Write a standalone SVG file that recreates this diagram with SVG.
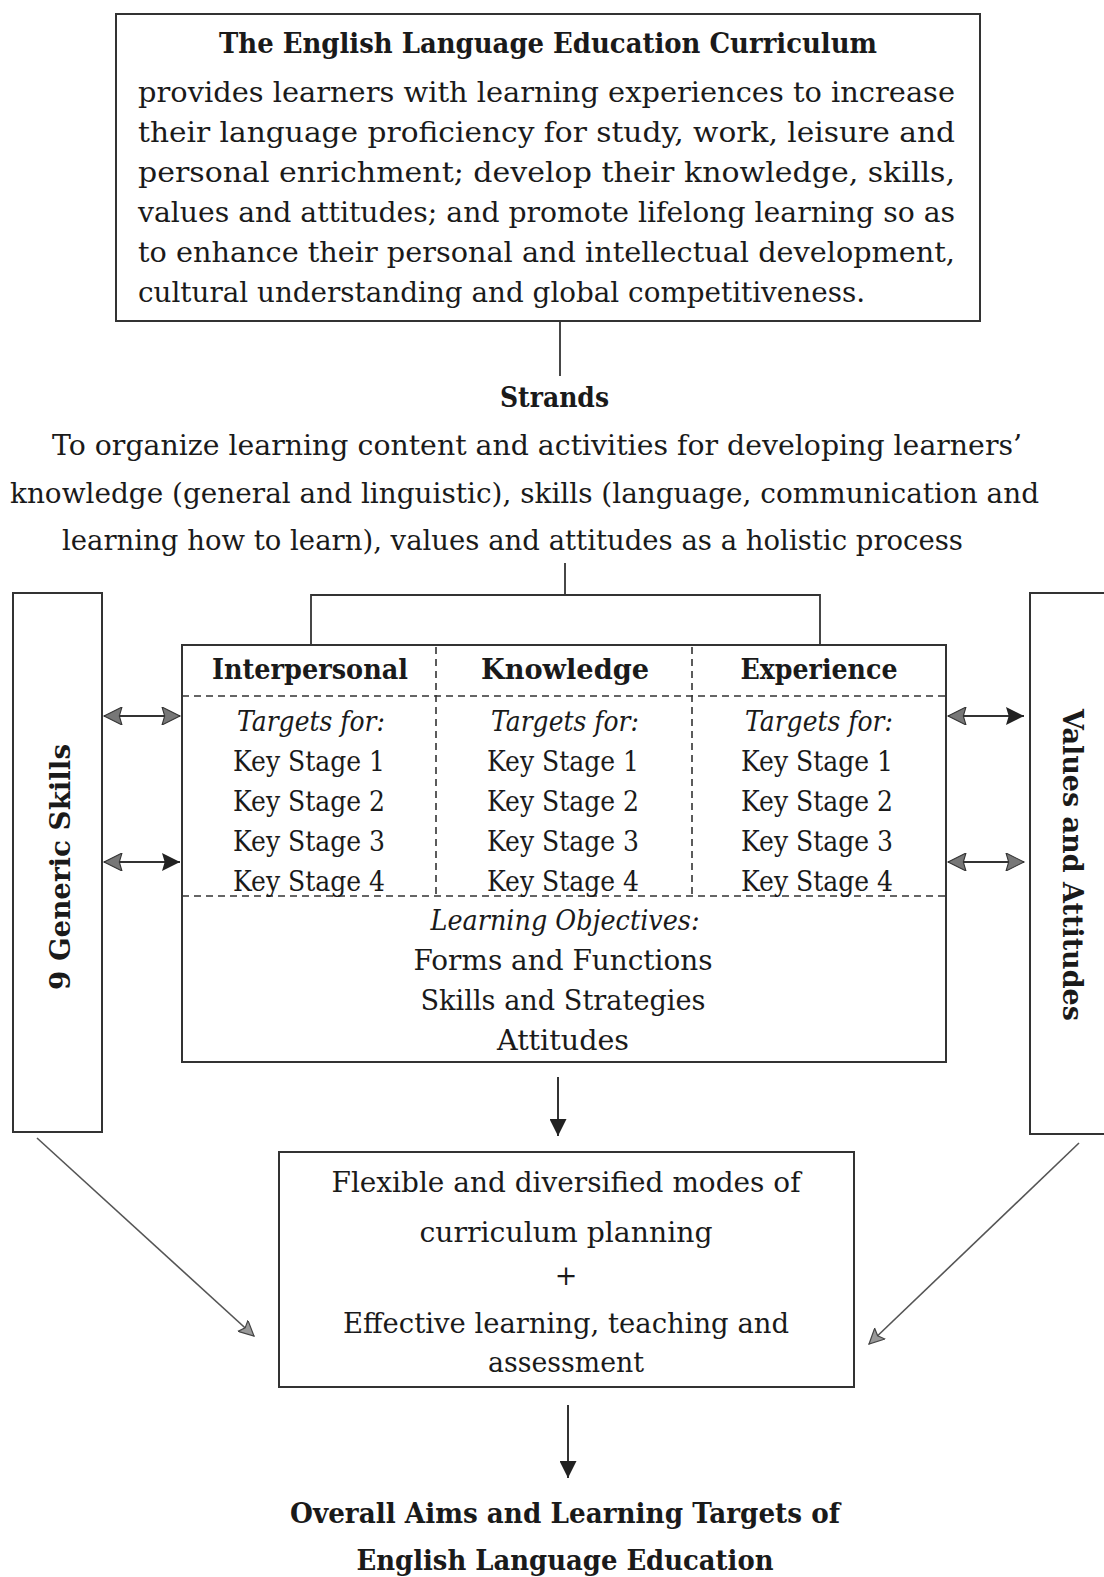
<svg xmlns="http://www.w3.org/2000/svg" width="1104" height="1577" viewBox="0 0 1104 1577">
<defs>
<style>
text{font-family:"DejaVu Serif","Liberation Serif",serif;font-size:27px;fill:#1a1a1a}
.b{font-weight:bold}
.i{font-style:italic}
.m{text-anchor:middle}
.box{fill:none;stroke:#333;stroke-width:2}
.ln{fill:none;stroke:#333;stroke-width:1.8}
.dash{fill:none;stroke:#333;stroke-width:1.6;stroke-dasharray:7 5}
.arr{fill:none;stroke:#333;stroke-width:2}
.diag{fill:none;stroke:#555;stroke-width:1.6}
</style>
<marker id="hd" viewBox="0 0 10 10" refX="10" refY="5" markerUnits="userSpaceOnUse" markerWidth="22" markerHeight="18" orient="auto-start-reverse">
<path d="M0,0 L10,5 L0,10 L1.5,5 z" fill="#222"/>
</marker>
<marker id="hg" viewBox="0 0 10 10" refX="10" refY="5" markerUnits="userSpaceOnUse" markerWidth="22" markerHeight="18" orient="auto-start-reverse">
<path d="M0,0 L10,5 L0,10 L1.5,5 z" fill="#777" stroke="#333" stroke-width="0.6"/>
</marker>
<marker id="hdown" viewBox="0 0 10 10" refX="10" refY="5" markerUnits="userSpaceOnUse" markerWidth="22" markerHeight="17" orient="auto">
<path d="M0,0 L10,5 L0,10 z" fill="#222"/>
</marker>
<marker id="hdiag" viewBox="0 0 10 10" refX="10" refY="5" markerUnits="userSpaceOnUse" markerWidth="20" markerHeight="15" orient="auto">
<path d="M0,0 L10,5 L0,10 L2,5 z" fill="#999" stroke="#444" stroke-width="0.8"/>
</marker>
</defs>
<rect width="1104" height="1577" fill="#fff"/>

<g id="connectors">
<line class="ln" x1="560" y1="321" x2="560" y2="376"/>
<line class="ln" x1="565" y1="563" x2="565" y2="595"/>
<polyline class="ln" points="311,645 311,595 820,595 820,645"/>
<line class="arr" x1="104" y1="716" x2="180" y2="716" marker-start="url(#hg)" marker-end="url(#hg)"/>
<line class="arr" x1="104" y1="862" x2="180" y2="862" marker-start="url(#hg)" marker-end="url(#hd)"/>
<line class="arr" x1="948" y1="716" x2="1024" y2="716" marker-start="url(#hg)" marker-end="url(#hd)"/>
<line class="arr" x1="948" y1="862" x2="1024" y2="862" marker-start="url(#hg)" marker-end="url(#hg)"/>
<line class="arr" x1="558" y1="1077" x2="558" y2="1136" marker-end="url(#hdown)"/>
<line class="diag" x1="37" y1="1138" x2="254" y2="1336" marker-end="url(#hdiag)"/>
<line class="diag" x1="1079" y1="1143" x2="869" y2="1344" marker-end="url(#hdiag)"/>
<line class="arr" x1="568" y1="1405" x2="568" y2="1478" marker-end="url(#hdown)"/>
</g>

<g id="curriculum">
<rect class="box" x="116" y="14" width="864" height="307"/>
<text class="b m" x="548" y="53" textLength="658" lengthAdjust="spacingAndGlyphs">The English Language Education Curriculum</text>
<text x="138" y="102" textLength="817" lengthAdjust="spacingAndGlyphs">provides learners with learning experiences to increase</text>
<text x="138" y="142" textLength="817" lengthAdjust="spacingAndGlyphs">their language proficiency for study, work, leisure and</text>
<text x="138" y="182" textLength="817" lengthAdjust="spacingAndGlyphs">personal enrichment; develop their knowledge, skills,</text>
<text x="138" y="222" textLength="817" lengthAdjust="spacingAndGlyphs">values and attitudes; and promote lifelong learning so as</text>
<text x="138" y="262" textLength="817" lengthAdjust="spacingAndGlyphs">to enhance their personal and intellectual development,</text>
<text x="138" y="302" textLength="727" lengthAdjust="spacingAndGlyphs">cultural understanding and global competitiveness.</text>
</g>

<g id="strands">
<text class="b" x="500" y="407" textLength="109" lengthAdjust="spacingAndGlyphs">Strands</text>
<text x="52" y="455" textLength="970" lengthAdjust="spacingAndGlyphs">To organize learning content and activities for developing learners’</text>
<text x="10" y="503" textLength="1029" lengthAdjust="spacingAndGlyphs">knowledge (general and linguistic), skills (language, communication and</text>
<text x="62" y="550" textLength="901" lengthAdjust="spacingAndGlyphs">learning how to learn), values and attitudes as a holistic process</text>
</g>

<g id="generic-skills">
<rect class="box" x="13" y="593" width="89" height="539"/>
<text class="b m" transform="translate(70,867) rotate(-90)" textLength="246" lengthAdjust="spacingAndGlyphs">9 Generic Skills</text>
</g>

<g id="values-attitudes">
<rect class="box" x="1030" y="593" width="90" height="541"/>
<text class="b m" transform="translate(1063,865) rotate(90)" textLength="312" lengthAdjust="spacingAndGlyphs">Values and Attitudes</text>
</g>

<g id="strands-table">
<rect class="box" x="182" y="645" width="764" height="417"/>
<line class="dash" x1="182" y1="696" x2="946" y2="696"/>
<line class="dash" x1="182" y1="896" x2="946" y2="896"/>
<line class="dash" x1="436" y1="647" x2="436" y2="896"/>
<line class="dash" x1="692" y1="647" x2="692" y2="896"/>
<text class="b m" x="310" y="679" textLength="196" lengthAdjust="spacingAndGlyphs">Interpersonal</text>
<text class="b m" x="565" y="679" textLength="168" lengthAdjust="spacingAndGlyphs">Knowledge</text>
<text class="b m" x="819" y="679" textLength="157" lengthAdjust="spacingAndGlyphs">Experience</text>
<text class="i m" x="311" y="731" textLength="148" lengthAdjust="spacingAndGlyphs">Targets for:</text>
<text class="m" x="309" y="771" textLength="152" lengthAdjust="spacingAndGlyphs">Key Stage 1</text>
<text class="m" x="309" y="811" textLength="152" lengthAdjust="spacingAndGlyphs">Key Stage 2</text>
<text class="m" x="309" y="851" textLength="152" lengthAdjust="spacingAndGlyphs">Key Stage 3</text>
<text class="m" x="309" y="891" textLength="152" lengthAdjust="spacingAndGlyphs">Key Stage 4</text>
<text class="i m" x="565" y="731" textLength="148" lengthAdjust="spacingAndGlyphs">Targets for:</text>
<text class="m" x="563" y="771" textLength="152" lengthAdjust="spacingAndGlyphs">Key Stage 1</text>
<text class="m" x="563" y="811" textLength="152" lengthAdjust="spacingAndGlyphs">Key Stage 2</text>
<text class="m" x="563" y="851" textLength="152" lengthAdjust="spacingAndGlyphs">Key Stage 3</text>
<text class="m" x="563" y="891" textLength="152" lengthAdjust="spacingAndGlyphs">Key Stage 4</text>
<text class="i m" x="819" y="731" textLength="148" lengthAdjust="spacingAndGlyphs">Targets for:</text>
<text class="m" x="817" y="771" textLength="152" lengthAdjust="spacingAndGlyphs">Key Stage 1</text>
<text class="m" x="817" y="811" textLength="152" lengthAdjust="spacingAndGlyphs">Key Stage 2</text>
<text class="m" x="817" y="851" textLength="152" lengthAdjust="spacingAndGlyphs">Key Stage 3</text>
<text class="m" x="817" y="891" textLength="152" lengthAdjust="spacingAndGlyphs">Key Stage 4</text>
<text class="i m" x="565" y="930" textLength="269" lengthAdjust="spacingAndGlyphs">Learning Objectives:</text>
<text class="m" x="563" y="970" textLength="299" lengthAdjust="spacingAndGlyphs">Forms and Functions</text>
<text class="m" x="563" y="1010" textLength="285" lengthAdjust="spacingAndGlyphs">Skills and Strategies</text>
<text class="m" x="563" y="1050" textLength="132" lengthAdjust="spacingAndGlyphs">Attitudes</text>
</g>

<g id="planning">
<rect class="box" x="279" y="1152" width="575" height="235"/>
<text class="m" x="566" y="1192" textLength="469" lengthAdjust="spacingAndGlyphs">Flexible and diversified modes of</text>
<text class="m" x="566" y="1242" textLength="293" lengthAdjust="spacingAndGlyphs">curriculum planning</text>
<text class="m" x="566" y="1285">+</text>
<text class="m" x="566" y="1333" textLength="446" lengthAdjust="spacingAndGlyphs">Effective learning, teaching and</text>
<text class="m" x="566" y="1372" textLength="156" lengthAdjust="spacingAndGlyphs">assessment</text>
</g>

<g id="overall-aims">
<text class="b m" x="565" y="1523" textLength="550" lengthAdjust="spacingAndGlyphs">Overall Aims and Learning Targets of</text>
<text class="b m" x="565" y="1570" textLength="417" lengthAdjust="spacingAndGlyphs">English Language Education</text>
</g>
</svg>
